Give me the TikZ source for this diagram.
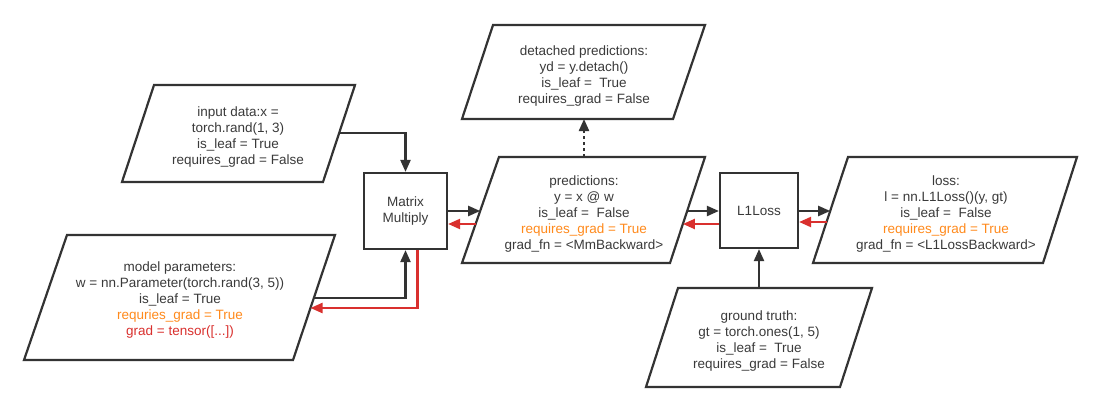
\documentclass[tikz,border=0pt]{standalone}
\usepackage{fontspec}
\setmainfont{Liberation Sans}
\usetikzlibrary{arrows.meta}
\definecolor{lc}{HTML}{333333}
\definecolor{tc}{HTML}{3A3A3A}
\definecolor{oc}{HTML}{FF8A1C}
\definecolor{rc}{HTML}{D9302E}
\newcommand\dfs{\fontsize{13.5}{16}\selectfont}
\tikzset{
  shp/.style={draw=lc, line width=2.2pt, line join=miter},
  txt/.style={align=center, text=tc, font=\dfs, inner sep=0pt, yshift=-2pt},
  opbox/.style={draw=lc, line width=2.2pt, text=tc, font=\dfs, align=center, inner sep=0pt},
  arr/.style={draw=lc, line width=2.2pt, -{Triangle[length=12pt,width=10pt]}},
  rarr/.style={draw=rc, line width=2.2pt, -{Triangle[length=12pt,width=10pt]}},
  dotarr/.style={draw=lc, line width=2.2pt, dash pattern=on 3pt off 3pt, -{Triangle[length=12pt,width=10pt]}},
}
\begin{document}
\begin{tikzpicture}[x=1pt,y=-1pt]
\useasboundingbox[fill=white] (0,0) rectangle (1103,412);

% input data
\draw[shp] (154,85) -- (355,85) -- (323,182) -- (122,182) -- cycle;
\node[txt] (inp) at (238,135.5) {input data:x =\\torch.rand(1, 3)\\is\_leaf = True\\requires\_grad = False};
\coordinate (inpR) at (339.2,133);

% model parameters
\draw[shp] (67,235) -- (335,235) -- (293,360) -- (24,360) -- cycle;
\node[txt] (par) at (180,298.5) {model parameters:\\w = nn.Parameter(torch.rand(3, 5))\\is\_leaf = True\\\textcolor{oc}{requries\_grad = True}\\\textcolor{rc}{grad = tensor([...])}};
\coordinate (parR1) at (313.8,298);
\coordinate (parR2) at (310.5,308);

% Matrix Multiply
\node[opbox, minimum width=83pt, minimum height=76pt] (mm) at (405.5,211) {Matrix\\Multiply};

% detached predictions
\draw[shp] (493,25) -- (705,25) -- (673,119) -- (462,119) -- cycle;
\node[txt] (det) at (584,74) {detached predictions:\\yd = y.detach()\\is\_leaf =\ \ True\\requires\_grad = False};
\coordinate (detB) at (584,119);

% predictions
\draw[shp] (499,157) -- (705,157) -- (670,263) -- (462,263) -- cycle;
\node[txt] (pred) at (584,212) {predictions:\\y = x @ w\\is\_leaf =\ \ False\\\textcolor{oc}{requires\_grad = True}\\grad\_fn = <MmBackward>};
\coordinate (predT) at (584,157);
\coordinate (predL1) at (480.2,211);
\coordinate (predL2) at (475.6,224);
\coordinate (predR1) at (687.2,211);
\coordinate (predR2) at (682.9,224);

% L1Loss
\node[opbox, minimum width=78pt, minimum height=75pt] (l1) at (759,210.5) {L1Loss};

% loss
\draw[shp] (848,157) -- (1077,157) -- (1043,263) -- (813,263) -- cycle;
\node[txt] (loss) at (946,212) {loss:\\l = nn.L1Loss()(y, gt)\\is\_leaf =\ \ False\\\textcolor{oc}{requires\_grad = True}\\grad\_fn = <L1LossBackward>};
\coordinate (lossL1) at (830.2,211);
\coordinate (lossL2) at (826.5,222);

% ground truth
\draw[shp] (678,288) -- (872,288) -- (840,387) -- (646,387) -- cycle;
\node[txt] (gt) at (759,339) {ground truth:\\gt = torch.ones(1, 5)\\is\_leaf =\ \ True\\requires\_grad = False};
\coordinate (gtT) at (759,288);

% connectors
\draw[arr] (inpR) -| (mm.north);
\draw[arr] (parR1) -| (mm.south);
\draw[rarr] ([xshift=12pt]mm.south) |- (parR2);
\draw[arr] (mm.east |- predL1) -- (predL1);
\draw[rarr] (predL2) -- (predL2 -| mm.east);
\draw[dotarr] (predT) -- (detB);
\draw[arr] (predR1) -- (predR1 -| l1.west);
\draw[rarr] (predR2 -| l1.west) -- (predR2);
\draw[arr] (lossL1 -| l1.east) -- (lossL1);
\draw[rarr] (lossL2) -- (lossL2 -| l1.east);
\draw[arr] (gtT) -- (l1.south);
\end{tikzpicture}
\end{document}
